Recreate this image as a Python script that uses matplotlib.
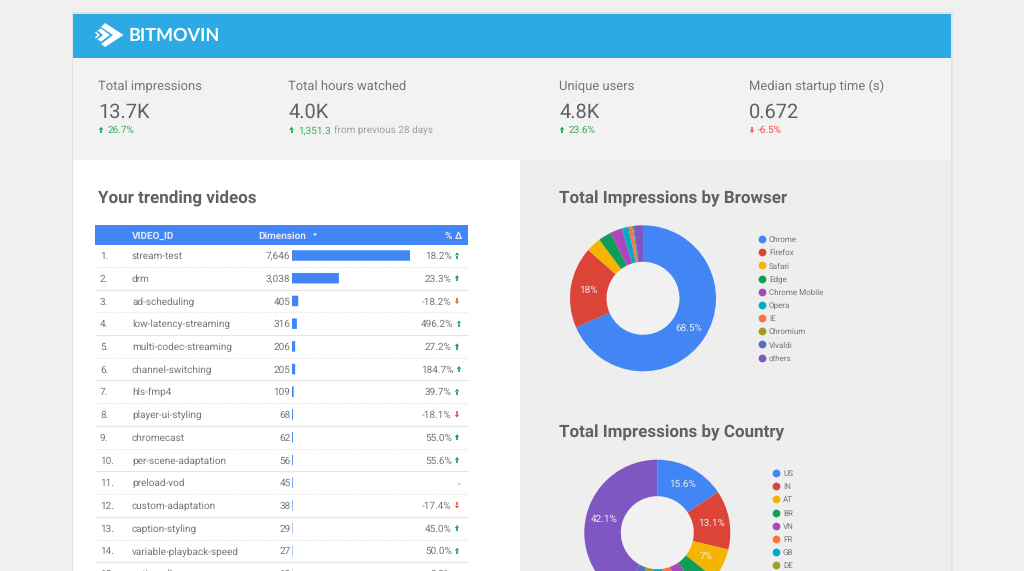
import matplotlib
matplotlib.use("Agg")
import matplotlib.pyplot as plt
from matplotlib.patches import Rectangle, Polygon, Circle

plt.rcParams['font.family'] = ['Roboto', 'DejaVu Sans']
plt.rcParams['text.hinting'] = 'no_hinting'
plt.rcParams['text.hinting_factor'] = 1

# ---------- data ----------
kpi_labels = ["Total impressions", "Total hours watched", "Unique users", "Median startup time (s)"]
kpi_values = ["13.7K", "4.0K", "4.8K", "0.672"]
kpi_deltas = ["26.7%", "1,351.3", "23.6%", "-6.5%"]
kpi_up = [True, True, True, False]

videos = ["stream-test", "drm", "ad-scheduling", "low-latency-streaming",
          "multi-codec-streaming", "channel-switching", "hls-fmp4", "player-ui-styling",
          "chromecast", "per-scene-adaptation", "preload-vod", "custom-adaptation",
          "caption-styling", "variable-playback-speed", "option-all"]
dimension = [7646, 3038, 405, 316, 206, 205, 109, 68, 62, 56, 45, 38, 29, 27, 19]
pct_delta = [18.2, 23.3, -18.2, 496.2, 27.2, 184.7, 39.7, -18.1, 55.0, 55.6, None,
             -17.4, 45.0, 50.0, 0.0]

browsers = ["Chrome", "Firefox", "Safari", "Edge", "Chrome Mobile", "Opera", "IE",
            "Chromium", "Vivaldi", "others"]
browser_share = [68.5, 18.0, 3.3, 2.9, 2.6, 1.5, 0.7, 0.3, 0.2, 2.0]

countries = ["US", "IN", "AT", "BR", "VN", "FR", "GB", "DE"]
country_share = [15.6, 13.1, 7.0, 4.6, 4.0, 3.6, 3.8, 3.2, 3.0, 42.1]
country_colors = ['#4285f4', '#db4437', '#f4b400', '#0f9d58', '#ab47bc', '#ff7043',
                  '#00acc1', '#9e9d24', '#5c6bc0', '#7e57c2']
browser_colors = ['#4285f4', '#db4437', '#f4b400', '#0f9d58', '#ab47bc', '#00acc1',
                  '#ff7043', '#9e9d24', '#5c6bc0', '#7e57c2']
legend_country_colors = country_colors[:5] + ['#ff7043', '#00acc1', '#9e9d24']

W, H = 1024, 571
fig = plt.figure(figsize=(W / 100, H / 100), dpi=100, facecolor='#f0f0f0')
ax = fig.add_axes([0, 0, 1, 1])
ax.set_xlim(0, W); ax.set_ylim(H, 0); ax.axis('off')

GREY = '#616161'; ROW = '#757575'; GREEN = '#43a853'; RED = '#ea5340'
def pt(px): return px * 0.72

# ---------- card ----------
ax.add_patch(Rectangle((71.5, 12), 881, 560, fc='#e2e2e2', ec='none', zorder=0))
ax.add_patch(Rectangle((73, 13.5), 878, 44, fc='#2da9e4', ec='none', zorder=1))
ax.add_patch(Rectangle((73, 57.5), 878, 103, fc='#f2f2f2', ec='none', zorder=1))
ax.add_patch(Rectangle((73, 160), 446.5, 412, fc='white', ec='none', zorder=1))
ax.add_patch(Rectangle((519.5, 160), 431.5, 412, fc='#eeeeee', ec='none', zorder=1))

# logo
for pts in ([(105, 23), (123.5, 35), (105, 47), (101, 44), (113, 35), (101, 27)],
            [(101, 28.5), (110, 35), (101, 41.5), (97.5, 39.5), (103, 35), (97.5, 30.5)],
            [(96, 31.5), (100, 35), (96, 38.5), (95, 37.5), (97.5, 35), (95, 32.5)]):
    ax.add_patch(Polygon(pts, closed=True, fc='white', ec='none', zorder=3))
ax.text(129, 41.3, "BITMOVIN", color='white', fontsize=pt(18.2), family='Lato', weight='bold',
        va='baseline', ha='left', zorder=3)

def arrow(x, y, up, color, s=1.0):
    d = -1 if up else 1
    ax.plot([x, x], [y, y - d * 3.4 * s], color=color, lw=1.2, zorder=4, solid_capstyle='butt')
    ax.add_patch(Polygon([(x - 2.3 * s, y + d * 0.3 * s), (x + 2.3 * s, y + d * 0.3 * s), (x, y + d * 3.2 * s)],
                         closed=True, fc=color, ec='none', zorder=4))

# ---------- KPIs ----------
kpi_x = [98, 288.5, 559, 749]
for x, lab, val, dl, up in zip(kpi_x, kpi_labels, kpi_values, kpi_deltas, kpi_up):
    c = GREEN if up else RED
    ax.text(x, 90, lab, color=ROW, fontsize=pt(13.2), va='baseline', zorder=3)
    ax.text(x, 118, val, color=GREY, fontsize=pt(20.2), va='baseline', zorder=3)
    arrow(x + 3, 130, up, '#0f9d58' if up else RED)
    ax.text(x + 9.3, 133.3, dl, color=c, fontsize=pt(10.4), va='baseline', zorder=3)
ax.text(334, 133.3, "from previous 28 days", color='#9e9e9e', fontsize=pt(10.4), va='baseline', zorder=3)

# ---------- table ----------
TITLE = pt(17.45)
ax.text(98, 203.8, "Your trending videos", color=GREY, fontsize=TITLE, weight='bold', va='baseline', zorder=3)
ax.add_patch(Rectangle((95, 225), 373, 20, fc='#4285f4', ec='none', zorder=2))
HDR = '#dfe9fd'
ax.text(132, 238.6, "VIDEO_ID", color=HDR, fontsize=pt(10.1), weight='bold', va='baseline', zorder=3)
ax.text(258.5, 238.6, "Dimension", color=HDR, fontsize=pt(10.1), weight='bold', va='baseline', zorder=3)
ax.add_patch(Polygon([(312.7, 233.5), (317.3, 233.5), (315, 236.2)], closed=True, fc=HDR, ec='none', zorder=3))
ax.text(462, 238.6, "% Δ", color=HDR, fontsize=pt(10.1), weight='bold', va='baseline', ha='right', zorder=3)

ROW0, STEP = 255.5, 22.72
TS = pt(10.2)
for i, (name, dim, p) in enumerate(zip(videos, dimension, pct_delta)):
    y = ROW0 + i * STEP
    ty = y + 3.5
    ax.text(100, ty, f"{i + 1}.", color=ROW, fontsize=TS, va='baseline', zorder=3)
    ax.text(132, ty, name, color=ROW, fontsize=TS, va='baseline', zorder=3)
    ax.text(290.5, ty, f"{dim:,}", color=ROW, fontsize=TS, va='baseline', ha='right', zorder=3)
    if i < 14:
        ax.plot([95, 468], [y + STEP / 2] * 2, color='#e6e6e6', lw=0.8, zorder=2,
                ls=(0, (1, 1)) if i % 2 == 0 else '-')
    if p is None:
        ax.text(461, ty, "-", color=ROW, fontsize=TS, va='baseline', ha='right', zorder=3)
        continue
    wide = p >= 100
    ax.text(453.5 if wide else 451.7, ty, f"{p:.1f}%", color=ROW, fontsize=TS, va='baseline', ha='right', zorder=3)
    if p != 0:
        arrow(459 if wide else 457, y, p > 0, '#0f9d58' if p > 0 else RED, 0.95)

# bars use their own value axis, aligned with the rows
bx = fig.add_axes([292 / W, 0, 118 / W, (H - 245) / H], zorder=3)
bx.set_xlim(0, max(dimension))
bx.set_ylim((H - ROW0) / STEP, (245 - ROW0) / STEP)
bx.axis('off')
for b in bx.barh(range(len(dimension)), dimension, height=10.5 / STEP, color='#4285f4', linewidth=0):
    b.set_snap(False)

# ---------- donuts ----------
def fmt(p):
    if p < 5: return ''
    r = round(p, 1)
    return f"{r:.0f}%" if r == int(r) else f"{r:.1f}%"

def donut(cx, cy, r, vals, cols):
    a = fig.add_axes([(cx - r) / W, (H - cy - r) / H, 2 * r / W, 2 * r / H], zorder=3)
    a.add_patch(Circle((0, 0), 0.5, fc='#f1f1f1', ec='none'))
    a.pie(vals, colors=cols, startangle=90, counterclock=False, radius=1,
          wedgeprops=dict(width=0.5, linewidth=0), autopct=fmt, pctdistance=0.75,
          textprops=dict(color='#ececec', fontsize=pt(10.3)))
    a.set_xlim(-1, 1); a.set_ylim(-1, 1); a.set_aspect('equal'); a.axis('off')
    return a

donut(643, 298.3, 73, browser_share, browser_colors)
donut(657.3, 532.7, 73, country_share, country_colors)

ax.text(559, 203.8, "Total Impressions by Browser", color=GREY, fontsize=TITLE, weight='bold', va='baseline', zorder=3)
ax.text(559, 437.8, "Total Impressions by Country", color=GREY, fontsize=TITLE, weight='bold', va='baseline', zorder=3)

def legend(x, y0, labels, cols):
    for i, (l, c) in enumerate(zip(labels, cols)):
        y = y0 + i * 13.17
        ax.plot([x], [y], 'o', ms=5.6, color=c, mec='none', zorder=3)
        ax.text(x + 7, y + 3.1, l, color=ROW, fontsize=pt(8.1), va='baseline', zorder=3)

legend(762, 239, browsers, browser_colors)
legend(776, 473, countries, legend_country_colors)

fig.savefig("out.png", dpi=100, facecolor=fig.get_facecolor())
